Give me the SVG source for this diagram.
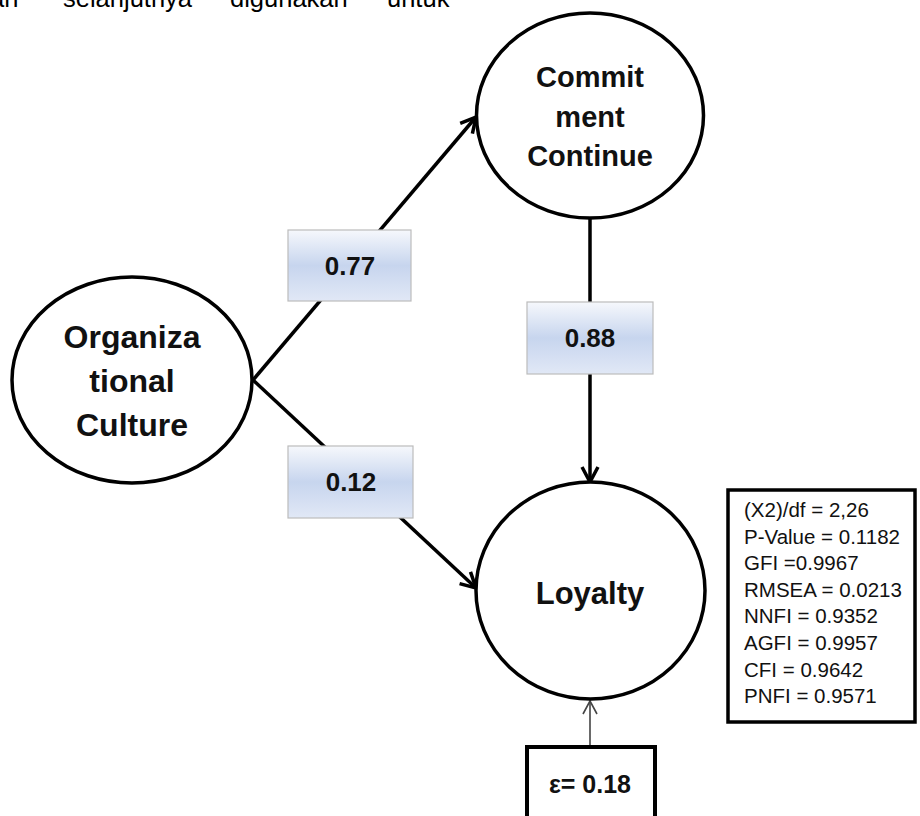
<svg xmlns="http://www.w3.org/2000/svg" width="920" height="816" viewBox="0 0 920 816">
<defs>
<linearGradient id="lblGrad" x1="0" y1="0" x2="0" y2="1">
<stop offset="0" stop-color="#f6f8fc"/>
<stop offset="0.5" stop-color="#c7d5ee"/>
<stop offset="1" stop-color="#e1e8f6"/>
</linearGradient>
<marker id="arrow" markerUnits="userSpaceOnUse" viewBox="-18 -11 21 22" refX="0" refY="0" markerWidth="21" markerHeight="22" orient="auto">
<path d="M-15,-8 L0,0 L-15,8" fill="none" stroke="#000" stroke-width="3.5" stroke-linejoin="miter"/>
</marker>
<marker id="arrowThin" markerUnits="userSpaceOnUse" viewBox="-16 -10 18 20" refX="0" refY="0" markerWidth="18" markerHeight="20" orient="auto">
<path d="M-13,-7 L0,0 L-13,7" fill="none" stroke="#444" stroke-width="1.6"/>
</marker>
</defs>
<style>
.node{fill:#fff;stroke:#000;stroke-width:3.5}
.conn{fill:none;stroke:#000;stroke-width:3.5}
.big{font-family:"Liberation Sans",Arial,sans-serif;font-weight:bold;fill:#111;text-anchor:middle}
.lblbox{fill:url(#lblGrad);stroke:#bcbcbc;stroke-width:1.2}
.lbl{font-family:"Liberation Sans",Arial,sans-serif;font-weight:bold;font-size:26px;fill:#111;text-anchor:middle}
.stat{font-family:"Liberation Sans",Arial,sans-serif;font-size:20.5px;fill:#111}
.top{font-family:"Liberation Sans",Arial,sans-serif;font-size:25.5px;fill:#000}
</style>
<rect width="920" height="816" fill="#fff"/>
<g id="header-text">
<text class="top" x="-10" y="7">an</text>
<text class="top" x="63" y="7">selanjutnya</text>
<text class="top" x="230" y="7">digunakan</text>
<text class="top" x="387" y="7">untuk</text>
</g>
<g id="connectors">
<line class="conn" x1="253" y1="380" x2="476" y2="117" marker-end="url(#arrow)"/>
<line class="conn" x1="253" y1="380" x2="476" y2="588" marker-end="url(#arrow)"/>
<line class="conn" x1="590" y1="218" x2="590" y2="482" marker-end="url(#arrow)"/>
<line x1="590" y1="747" x2="590" y2="701" fill="none" stroke="#444" stroke-width="1.6" marker-end="url(#arrowThin)"/>
</g>
<g id="organizational-culture">
<ellipse class="node" cx="132" cy="380" rx="120" ry="103"/>
<text class="big" font-size="32" x="132" y="348">Organiza</text>
<text class="big" font-size="32" x="132" y="392">tional</text>
<text class="big" font-size="32" x="132" y="436">Culture</text>
</g>
<g id="commitment-continue">
<ellipse class="node" cx="590" cy="115.5" rx="113.5" ry="102.5"/>
<text class="big" font-size="29" x="590" y="87">Commit</text>
<text class="big" font-size="29" x="590" y="127">ment</text>
<text class="big" font-size="29" x="590" y="166">Continue</text>
</g>
<g id="loyalty">
<ellipse class="node" cx="590.5" cy="590.5" rx="114.5" ry="108.5"/>
<text class="big" font-size="31" x="590" y="604">Loyalty</text>
</g>
<g id="label-077">
<rect class="lblbox" x="288" y="230" width="123" height="71"/>
<text class="lbl" x="350" y="275">0.77</text>
</g>
<g id="label-088">
<rect class="lblbox" x="527" y="302" width="126" height="72"/>
<text class="lbl" x="590" y="347">0.88</text>
</g>
<g id="label-012">
<rect class="lblbox" x="288" y="446" width="125" height="72"/>
<text class="lbl" x="351" y="491">0.12</text>
</g>
<g id="error-term">
<rect x="527" y="747" width="128" height="80" fill="#fff" stroke="#000" stroke-width="4"/>
<text class="big" font-size="25" x="590" y="793">ε= 0.18</text>
</g>
<g id="fit-stats">
<rect x="728" y="490" width="187" height="232" fill="#fff" stroke="#000" stroke-width="3.5"/>
<text class="stat" x="744" y="517">(X2)/df = 2,26</text>
<text class="stat" x="744" y="543.5">P-Value = 0.1182</text>
<text class="stat" x="744" y="570">GFI =0.9967</text>
<text class="stat" x="744" y="596.5">RMSEA = 0.0213</text>
<text class="stat" x="744" y="623">NNFI = 0.9352</text>
<text class="stat" x="744" y="650">AGFI = 0.9957</text>
<text class="stat" x="744" y="676.5">CFI = 0.9642</text>
<text class="stat" x="744" y="703">PNFI = 0.9571</text>
</g>
</svg>
